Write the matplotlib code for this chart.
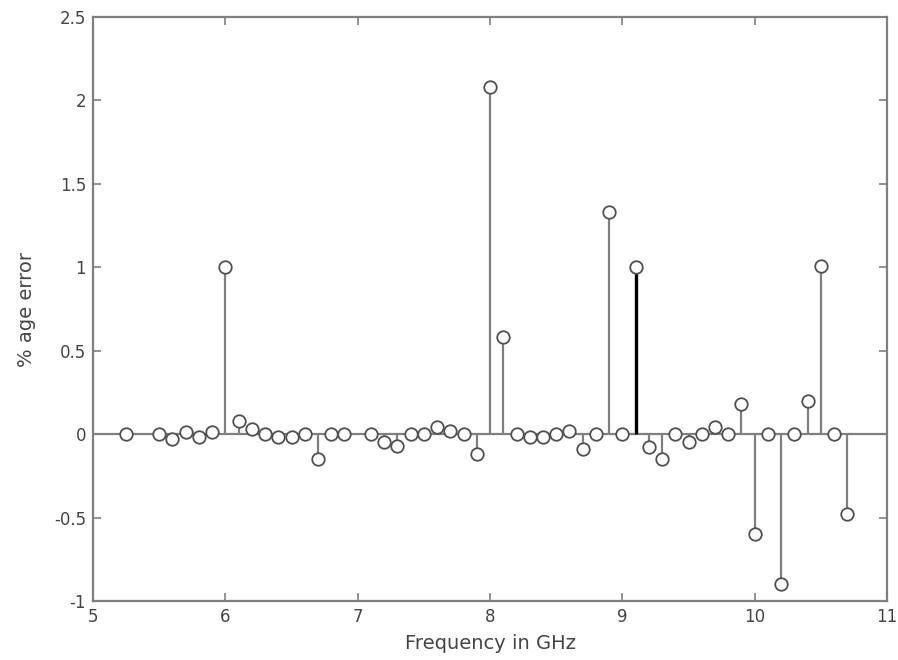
import matplotlib
matplotlib.use('Agg')
import matplotlib.pyplot as plt

# ── Data ─────────────────────────────────────────────────────
freq_ghz = [5.25, 5.5, 5.6, 5.7, 5.8, 5.9, 6.0, 6.1, 6.2, 6.3, 6.4, 6.5, 6.6, 6.7,
            6.8, 6.9, 7.1, 7.2, 7.3, 7.4, 7.5, 7.6, 7.7, 7.8, 7.9, 8.0, 8.1, 8.2,
            8.3, 8.4, 8.5, 8.6, 8.7, 8.8, 8.9, 9.0, 9.1, 9.2, 9.3, 9.4, 9.5, 9.6,
            9.7, 9.8, 9.9, 10.0, 10.1, 10.2, 10.3, 10.4, 10.5, 10.6, 10.7]
pct_error = [0.0, 0.0, -0.03, 0.01, -0.02, 0.01, 1.0, 0.08, 0.03, 0.0, -0.02, -0.02,
             0.0, -0.15, 0.0, 0.0, 0.0, -0.05, -0.07, 0.0, 0.0, 0.04, 0.02, 0.0,
             -0.12, 2.08, 0.58, 0.0, -0.02, -0.02, 0.0, 0.02, -0.09, 0.0, 1.33, 0.0,
             1.0, -0.08, -0.15, 0.0, -0.05, 0.0, 0.04, 0.0, 0.18, -0.6, 0.0, -0.9,
             0.0, 0.2, 1.01, 0.0, -0.48]
highlight_freq = 9.1

x_ticks = [5, 6, 7, 8, 9, 10, 11]
y_ticks = [-1, -0.5, 0, 0.5, 1, 1.5, 2, 2.5]
y_tick_labels = ['-1', '-0.5', '0', '0.5', '1', '1.5', '2', '2.5']

GRAY = '#7f7f7f'
TEXT = '#444444'

plt.rcParams['font.family'] = ['DejaVu Sans']

fig = plt.figure(figsize=(8.98, 6.6), dpi=100)
ax = fig.add_axes([0.1036, 0.0894, 0.8842, 0.8848])

# baseline across the full x range
ax.axhline(0, color=GRAY, linewidth=1.6, zorder=1)

for f, e in zip(freq_ghz, pct_error):
    if f == highlight_freq:
        ax.vlines(f, 0, e, color='black', linewidth=2.4, zorder=2)
    else:
        ax.vlines(f, 0, e, color=GRAY, linewidth=1.6, zorder=2)

ax.plot(freq_ghz, pct_error, linestyle='none', marker='o', markersize=9,
        markerfacecolor='white', markeredgecolor='#505050', markeredgewidth=1.3,
        zorder=3)

ax.set_xlim(5, 11)
ax.set_ylim(-1, 2.5)
ax.set_xticks(x_ticks)
ax.set_xticklabels([str(t) for t in x_ticks])
ax.set_yticks(y_ticks)
ax.set_yticklabels(y_tick_labels)

for s in ax.spines.values():
    s.set_color(GRAY)
    s.set_linewidth(1.6)
ax.tick_params(direction='in', length=6, width=1.2, color=GRAY,
               top=True, right=True, labelsize=12, labelcolor=TEXT, pad=5)

ax.set_xlabel('Frequency in GHz', fontsize=14, color=TEXT, labelpad=6)
ax.set_ylabel('% age error', fontsize=14, color=TEXT, labelpad=13)

fig.savefig('out.png', dpi=100, facecolor='white')
